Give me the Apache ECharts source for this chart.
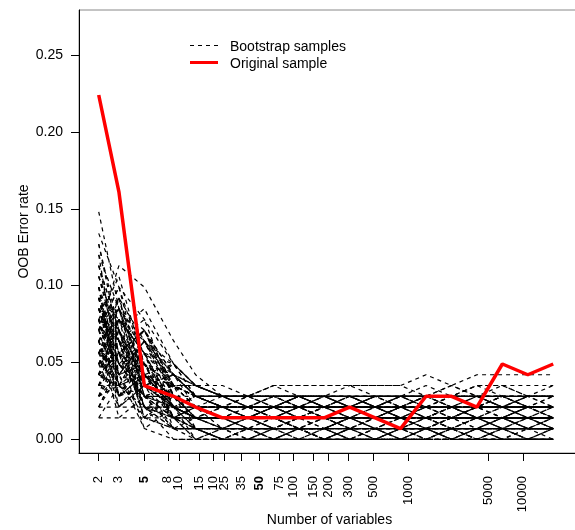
<!DOCTYPE html>
<html>
<head>
<meta charset="utf-8">
<script src="https://cdn.jsdelivr.net/npm/echarts@6/dist/echarts.min.js"></script>
<style>
html,body{margin:0;padding:0;background:#fff;}
#chart{width:575px;height:530px;}
</style>
</head>
<body>
<div id="chart"></div>
<script>
// Number of variables at each elimination step
const nVars = [2,3,5,9,14,24,40,67,111,185,309,515,858,1431,2385,3974,6624,11040,18400];
// Axis tick positions and labels
const xTickValues = [2,3,5,8,10,15,20,25,35,50,75,100,150,200,300,500,1000,5000,10000];
const xTickLabels = ['2','3','5','8','10','15','10','25','35','50','75','100','150','200','300','500','1000','5000','10000'];
const xBoldLabels = ['5','50'];
const yTickValues = [0,0.05,0.10,0.15,0.20,0.25];
const yTickLabels = ['0.00','0.05','0.10','0.15','0.20','0.25'];
const legendLabels = ['Bootstrap samples','Original sample'];
// Original sample OOB error
const originalSample = [0.224,0.161,0.035,0.028,0.021,0.014,0.014,0.014,0.014,0.014,0.021,0.014,0.007,0.028,0.028,0.021,0.049,0.042,0.049];
// Bootstrap samples OOB error (one list per bootstrap sample)
const bootstrapSamples = [
[.148,.085,.071,.042,.028,.021,.021,.028,.021,.021,.014,.014,.021,.021,.021,.014,.014,.014,.014],
[.056,.092,.042,.035,.028,.028,.028,.035,.028,.028,.028,.021,.028,.028,.028,.035,.035,.028,.028],
[.071,.113,.099,.064,.042,.028,.028,.035,.035,.035,.035,.028,.028,.028,.028,.028,.021,.028,.028],
[.12,.042,.049,.028,.021,.014,.014,.007,.014,.014,.014,.007,.007,.007,.014,.014,.014,.021,.014],
[.035,.078,.064,.042,.035,.028,.021,.021,.028,.021,.021,.021,.021,.028,.028,.028,.028,.021,.021],
[.106,.071,.021,.021,.014,.007,.007,.007,.007,0,.007,.007,.007,.014,.014,.014,.007,.007,.007],
[.049,.085,.028,.035,.021,.014,.014,.021,.021,.021,.021,.014,.021,.021,.021,.021,.021,.021,.021],
[.099,.028,.035,.021,.014,.014,.007,.007,.007,0,0,0,0,.007,0,0,0,0,0],
[.042,.078,.056,.021,.028,.021,.021,.021,.014,.021,.014,.014,.014,.014,.014,.021,.021,.021,.021],
[.092,.035,.049,.014,.021,.021,.014,.014,.014,.014,.021,.014,.014,.014,.007,.014,.014,.014,.014],
[.028,.056,.021,.028,.021,.021,.021,.014,.021,.021,.021,.028,.021,.021,.021,.021,.028,.021,.021],
[.085,.064,.014,.035,.028,.028,.028,.028,.028,.028,.028,.028,.028,.028,.028,.035,.035,.035,.035],
[.021,.049,.028,.014,.007,.007,.007,.007,.014,.007,.007,.007,.007,.007,.007,.007,.014,.007,.007],
[.078,.021,.035,.007,.014,.007,.007,.014,.007,.007,.014,.014,.014,.021,.014,.014,.014,.014,.014],
[.127,.064,.042,.028,.021,.014,.014,.014,.014,.014,.014,.007,.007,.007,.007,.007,.007,0,.007],
[.071,.099,.035,.042,.021,.021,.021,.021,.028,.021,.021,.021,.014,.014,.014,.021,.014,.014,.014],
[.035,.056,.042,.049,.028,.028,.028,.028,.028,.021,.028,.028,.028,.028,.035,.028,.028,.028,.028],
[.071,.085,.056,.014,.014,.014,.014,.021,.014,.014,.014,.014,.014,.014,.021,.021,.021,.021,.021],
[.092,.049,.028,.035,.007,0,0,0,.007,0,0,.007,0,0,0,0,.007,0,0],
[.064,.021,.035,.014,.021,.014,.014,.014,.007,.007,.007,.007,.014,.007,.007,.007,.007,.007,.007],
[.113,.056,.071,.035,.028,.021,.021,.021,.021,.028,.021,.021,.021,.021,.028,.028,.028,.028,.028],
[.056,.078,.021,.007,.007,.007,.007,0,0,0,.007,0,0,0,.007,0,0,0,0],
[.085,.035,.064,.021,.021,.021,.014,.021,.021,.021,.021,.021,.014,.014,.014,.014,.014,.007,.014],
[.056,.071,.014,.021,.014,.014,.014,.014,.021,.014,.014,.014,.021,.014,.014,.014,.014,.014,.014],
[.099,.035,.042,.014,.007,.007,.014,.007,.007,.007,.007,.007,.007,.007,0,.007,.007,.007,.007],
[.049,.064,.035,.049,.028,.028,.028,.028,.028,.028,.035,.035,.035,.028,.028,.028,.035,.028,.028],
[.078,.028,.056,.007,.007,0,0,0,0,.007,0,0,0,0,0,0,0,0,0],
[.042,.092,.028,.021,.014,.014,.014,.014,.014,.014,.014,.021,.014,.014,.014,.014,.014,.021,.014],
[.064,.028,.042,.021,.021,.021,.021,.021,.021,.014,.014,.014,.014,.014,.021,.021,.021,.021,.021],
[.042,.056,.007,.021,0,0,.007,0,0,0,0,0,.007,0,0,0,0,0,0],
[.078,.028,.049,.014,.014,.014,.014,.007,.014,.014,.014,.014,.014,.014,.007,.007,.007,.014,.007],
[.035,.064,.014,.028,.007,.007,.007,.007,.007,.014,.007,.007,.007,.007,.007,.007,.007,.007,.007],
[.049,.021,.042,.014,.014,.021,.021,.021,.021,.021,.028,.021,.021,.021,.021,.021,.021,.021,.021],
[.028,.042,.007,0,0,0,0,0,0,0,0,0,0,0,0,.007,0,0,0],
[.064,.014,.028,.007,.007,.007,.007,.007,.007,.007,.007,.014,.007,.007,.007,.007,.007,.007,.007],
[.014,.035,.021,0,0,0,0,0,0,0,0,0,0,0,0,0,0,0,0],
[.134,.099,.078,.049,.035,.035,.028,.035,.035,.035,.035,.035,.035,.042,.035,.042,.042,.042,.042],
[.092,.042,.064,.049,.035,.028,.028,.028,.028,.028,.028,.028,.028,.028,.021,.021,.021,.021,.021],
[.113,.071,.085,.049,.035,.028,.028,.028,.028,.028,.028,.021,.028,.028,.028,.028,.028,.028,.028],
[.085,.049,.056,.035,.035,.028,.028,.028,.028,.028,.028,.028,.028,.035,.028,.028,.028,.028,.028],
[.021,.049,.028,.021,.014,.014,.014,.014,.014,.014,.014,.014,.014,.014,.014,.014,.014,.014,.014],
[.014,.014,.014,.014,.014,.014,.014,.014,.014,.014,.014,.014,.014,.014,.014,.014,.014,.014,.014],
[.021,.021,.021,.021,.021,.021,.021,.021,.021,.021,.021,.021,.021,.021,.021,.021,.021,.021,.021],
[.035,.035,.028,.028,.028,.021,.021,.021,.021,.021,.021,.021,.021,.021,.021,.021,.021,.021,.021],
[.085,.042,.064,.028,.021,.014,.007,.014,.007,.014,.007,.014,.007,.014,.007,.014,.007,.014,.007],
[.042,.078,.035,.021,.014,.007,.014,.007,.014,.007,.014,.007,.014,.007,.014,.007,.014,.007,.014],
[.071,.099,.049,.035,.028,.021,.028,.021,.028,.021,.028,.021,.028,.021,.028,.021,.028,.021,.021],
[.106,.064,.078,.028,.021,.028,.021,.028,.021,.028,.021,.028,.021,.028,.021,.028,.021,.028,.028],
[.049,.071,.021,.014,0,.007,0,.007,0,.007,0,.007,0,.007,0,.007,0,.007,.007],
[.092,.035,.014,.007,.007,0,.007,0,.007,0,.007,0,.007,0,.007,0,.007,0,0],
[.028,.071,.042,.021,.014,.021,.014,.021,.014,.021,.014,.021,.014,.021,.014,.021,.014,.021,.021],
[.064,.085,.028,.014,.021,.014,.021,.014,.021,.014,.021,.014,.021,.014,.021,.014,.021,.014,.014],
[.078,.106,.049,.042,.028,.028,.028,.028,.028,.028,.028,.028,.028,.028,.035,.028,.028,.028,.035],
[.056,.056,.071,.035,.035,.028,.028,.028,.028,.028,.028,.028,.028,.028,.028,.028,.028,.028,.028],
[.099,.049,.035,.028,.021,.021,.028,.028,.021,.021,.028,.028,.021,.021,.028,.028,.021,.021,.028],
[.042,.064,.049,.014,.007,.007,.014,.014,.007,.007,.014,.014,.007,.007,.014,.014,.007,.007,.007],
[.071,.028,.042,.028,.014,.014,.007,.007,.014,.014,.007,.007,.014,.014,.007,.007,.014,.014,.014],
[.085,.056,.021,.007,.007,0,0,.007,.007,0,0,.007,.007,0,0,.007,.007,0,0],
[.049,.078,.056,.042,.035,.028,.028,.021,.021,.028,.028,.021,.021,.028,.028,.021,.021,.028,.028],
[.078,.042,.064,.035,.028,.021,.021,.014,.014,.021,.021,.014,.014,.021,.021,.014,.014,.021,.021],
[.12,.085,.064,.042,.028,.021,.014,.014,.021,.021,.014,.014,.021,.021,.014,.014,.021,.021,.014],
[.021,.042,.014,.007,0,0,.007,.007,0,0,.007,.007,0,0,.007,.007,0,0,.007],
[.064,.092,.035,.028,.021,.021,.021,.021,.028,.028,.021,.021,.028,.028,.021,.021,.028,.028,.021],
[.092,.056,.071,.028,.014,.014,.014,.014,.007,.007,.014,.014,.007,.007,.014,.014,.007,.007,.014],
[.035,.064,.049,.042,.028,.028,.028,.028,.028,.021,.021,.028,.028,.021,.021,.028,.028,.021,.021],
[.113,.071,.035,.035,.021,.007,.007,.007,.007,.007,0,0,.007,.007,0,0,.007,.007,0],
[.056,.028,.042,.021,.014,.014,.014,.021,.021,.014,.014,.021,.021,.014,.014,.021,.021,.014,.014],
[.028,.049,.028,.014,.021,.014,.014,.014,.014,.014,.021,.021,.014,.014,.021,.021,.014,.014,.021],
[.071,.085,.042,.035,.028,.028,.021,.021,.028,.028,.028,.021,.021,.028,.028,.021,.021,.028,.028],
[.042,.056,.071,.028,.021,.021,.028,.028,.028,.028,.021,.021,.028,.028,.028,.028,.021,.021,.021],
[.071,.049,.064,.028,.021,.014,.014,.021,.021,.014,.014,.014,.021,.021,.021,.014,.014,.014,.021],
[.056,.085,.042,.021,.014,.007,.007,.007,.014,.014,.007,.007,.007,.014,.014,.007,.007,.014,.014],
[.099,.064,.042,.035,.028,.021,.021,.028,.028,.028,.021,.021,.021,.028,.028,.028,.021,.021,.028],
[.042,.035,.056,.021,.007,0,0,.007,.007,0,0,0,.007,.007,0,0,.007,.007,.007],
[.085,.071,.028,.028,.021,.021,.021,.021,.014,.014,.021,.021,.021,.014,.014,.021,.021,.014,.014],
[.064,.078,.049,.014,.014,.014,.007,.007,.007,.014,.014,.007,.007,.007,.014,.014,.014,.007,.007],
[.078,.042,.035,.042,.028,.028,.028,.021,.021,.028,.028,.028,.028,.021,.021,.028,.028,.028,.028],
[.049,.064,.021,.014,0,.007,.007,0,0,0,.007,.007,0,0,.007,0,0,.007,.007],
[.106,.056,.049,.021,.021,.014,.021,.021,.014,.014,.021,.014,.014,.021,.021,.014,.014,.021,.014],
[.035,.049,.035,.028,.014,.014,.014,.014,.007,.007,.014,.014,.014,.007,.007,.014,.014,.007,.007],
[.092,.078,.056,.049,.035,.028,.028,.028,.028,.021,.021,.028,.028,.028,.028,.035,.028,.028,.028],
[.028,.035,.021,.014,.007,.007,0,0,.007,.007,.007,0,0,.007,.007,0,0,0,.007],
[.071,.092,.064,.035,.021,.021,.014,.014,.014,.021,.021,.014,.014,.014,.021,.021,.021,.014,.014],
[.127,.071,.042,.028,.014,.014,.014,.007,.007,.007,.014,.014,.014,.007,.007,.007,.014,.014,.007],
[.064,.035,.042,.021,.028,.021,.021,.028,.021,.021,.021,.028,.028,.021,.021,.021,.028,.021,.021],
[.049,.056,.028,.007,.007,0,0,0,.007,.007,0,0,0,.007,.007,.007,0,0,0],
[.085,.049,.071,.042,.028,.028,.021,.021,.028,.028,.021,.021,.028,.028,.021,.021,.028,.028,.021],
[.042,.071,.035,.021,.014,.021,.021,.014,.014,.021,.021,.021,.014,.014,.014,.021,.021,.021,.021],
[.078,.064,.021,.021,.007,.007,.014,.014,.007,.007,.007,.014,.014,.007,.007,.014,.014,.014,.007],
[.056,.042,.049,.035,.021,.014,.014,.014,.021,.021,.021,.014,.014,.014,.021,.014,.014,.014,.014]
];

const FONT = 'Liberation Sans, Arial, Helvetica, sans-serif';
const chart = echarts.init(document.getElementById('chart'), null, {renderer: 'canvas'});

function pairs(vals) { return nVars.map((n, i) => [n, vals[i]]); }

const series = bootstrapSamples.map(vals => ({
  name: legendLabels[0],
  type: 'line',
  data: pairs(vals),
  showSymbol: false,
  symbol: 'none',
  silent: true,
  z: 2,
  lineStyle: {color: '#000', width: 1.2, type: [4, 4]}
}));
series.push({
  name: legendLabels[1],
  type: 'line',
  data: pairs(originalSample),
  showSymbol: false,
  symbol: 'none',
  silent: true,
  z: 5,
  lineStyle: {color: '#ff0000', width: 3.5}
});

function nearestIndex(v, vals) {
  let best = 0, bd = Infinity;
  for (let i = 0; i < vals.length; i++) {
    const d = Math.abs(Math.log(vals[i]) - Math.log(v));
    if (d < bd) { bd = d; best = i; }
  }
  return best;
}

chart.setOption({
  animation: false,
  backgroundColor: '#fff',
  textStyle: {fontFamily: FONT},
  grid: {left: 79, right: -5, top: 10, bottom: 77, show: true, borderColor: '#888', borderWidth: 1,
         containLabel: false, outerBoundsMode: 'none'},
  legend: {show: false},
  graphic: [
    {type: 'line', shape: {x1: 190, y1: 45.5, x2: 218, y2: 45.5},
     style: {stroke: '#000', lineWidth: 1, lineDash: [4, 4]}, silent: true},
    {type: 'text', left: 230, top: 40, silent: true,
     style: {text: legendLabels[0], fill: '#000', font: '14px ' + FONT}},
    {type: 'line', shape: {x1: 190, y1: 62.5, x2: 218, y2: 62.5},
     style: {stroke: '#ff0000', lineWidth: 3}, silent: true},
    {type: 'text', left: 230, top: 57, silent: true,
     style: {text: legendLabels[1], fill: '#000', font: '14px ' + FONT}}
  ],
  xAxis: {
    type: 'log', logBase: 10,
    min: 1.346, max: 31500,
    name: 'Number of variables', nameLocation: 'middle', nameGap: 60, nameMoveOverlap: false,
    nameTextStyle: {fontFamily: FONT, fontSize: 14, color: '#000'},
    axisLine: {show: true, onZero: false, lineStyle: {color: '#000', width: 1}},
    axisTick: {show: true, customValues: xTickValues, length: 8, lineStyle: {color: '#000'}},
    axisLabel: {customValues: xTickValues, rotate: 90, margin: 23, fontFamily: FONT, fontSize: 13, color: '#000',
      hideOverlap: false,
      formatter: v => {
        const lab = xTickLabels[nearestIndex(v, xTickValues)];
        return xBoldLabels.indexOf(lab) >= 0 ? '{b|' + lab + '}' : lab;
      },
      rich: {b: {fontWeight: 'bold', fontFamily: FONT, fontSize: 13, color: '#000'}}},
    splitLine: {show: false}, minorTick: {show: false}
  },
  yAxis: {
    type: 'value', min: -0.0089, max: 0.2793,
    name: 'OOB Error rate', nameLocation: 'middle', nameGap: 48, nameMoveOverlap: false,
    nameTextStyle: {fontFamily: FONT, fontSize: 14, color: '#000'},
    axisLine: {show: true, onZero: false, lineStyle: {color: '#000', width: 1}},
    axisTick: {show: true, customValues: yTickValues, length: 8, lineStyle: {color: '#000'}},
    axisLabel: {customValues: yTickValues, margin: 16, fontFamily: FONT, fontSize: 14, color: '#000',
      formatter: v => yTickLabels[yTickValues.findIndex(t => Math.abs(t - v) < 1e-6)]},
    splitLine: {show: false}
  },
  series: series
});
</script>
</body>
</html>
